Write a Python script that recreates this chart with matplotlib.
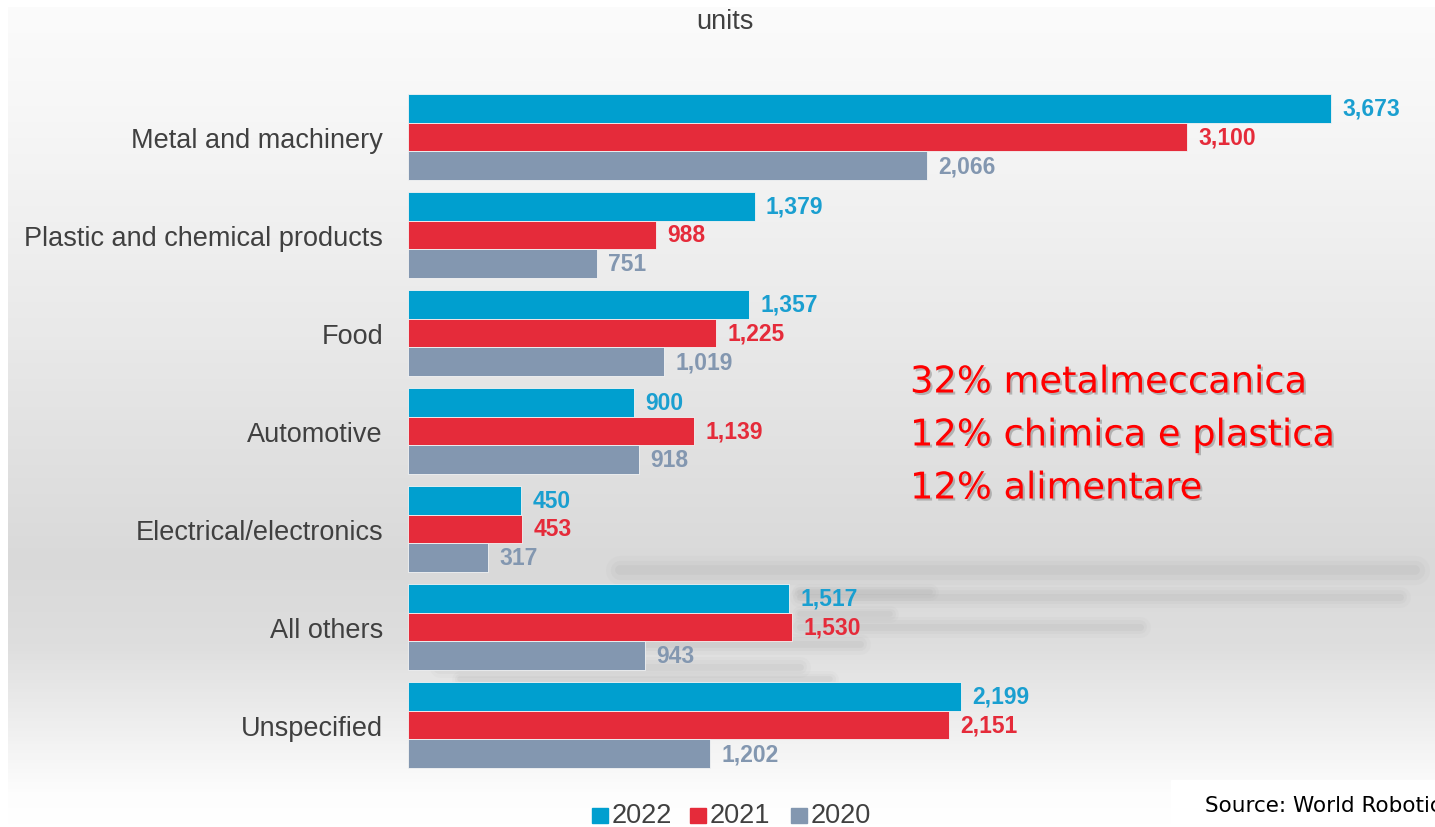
import numpy as np
import matplotlib.pyplot as plt
from matplotlib import patheffects as pe
from matplotlib.colors import LinearSegmentedColormap

# data
categories = ['Metal and machinery', 'Plastic and chemical products', 'Food',
              'Automotive', 'Electrical/electronics', 'All others', 'Unspecified']
years = ['2022', '2021', '2020']
v2022 = [3673, 1379, 1357, 900, 450, 1517, 2199]
v2021 = [3100, 988, 1225, 1139, 453, 1530, 2151]
v2020 = [2066, 751, 1019, 918, 317, 943, 1202]

bar_colors = ['#009fcf', '#e52b3a', '#8397b0']
label_colors = ['#1a9fd0', '#e52b3a', '#8397b0']
note_lines = ['32% metalmeccanica', '12% chimica e plastica', '12% alimentare']

W, H = 1435, 828
fig = plt.figure(figsize=(W / 100, H / 100), dpi=100)
fig.patch.set_facecolor('white')

# slide background gradient
bg = fig.add_axes([8 / W, 0, 1 - 8 / W, 1 - 8 / H], zorder=0)
grad = LinearSegmentedColormap.from_list('bg', [
    (0.0, '#fbfbfb'), (0.12, '#f7f7f7'), (0.40, '#e9e9e9'), (0.68, '#d9d9d9'),
    (0.78, '#dedede'), (0.96, '#fdfdfd'), (1.0, '#ffffff')])
bg.imshow(np.linspace(0, 1, 256).reshape(-1, 1), aspect='auto', cmap=grad,
          extent=[0, 1, 1, 0])
bg.set_xlim(0, 1)
bg.set_ylim(1, 0)
bg.axis('off')

# faint blurred streaks from the slide
streaks = [(620, 1415, 571, 7), (800, 1400, 598, 5), (800, 930, 593, 4),
           (800, 1140, 628, 5), (800, 890, 615, 4), (600, 860, 645, 5),
           (440, 800, 668, 5), (460, 830, 680, 4)]
for x0, x1, yy, lw in streaks:
    for k, a in [(3.0, 0.05), (2.0, 0.07), (1.0, 0.10)]:
        bg.plot([(x0 - 8) / (W - 8), (x1 - 8) / (W - 8)], [(yy - 8) / (H - 8)] * 2,
                color='#9a9a9a', lw=lw * k, alpha=a, solid_capstyle='round')

ax = fig.add_axes([408 / W, 1 - 775 / H, 1 - 408 / W, 686 / H], zorder=2)
ax.patch.set_alpha(0)
y = np.arange(len(categories))
h = 0.293
series = [v2022, v2021, v2020]
for i, vals in enumerate(series):
    pos = y + (i - 1) * h
    ax.barh(pos, vals, height=h, color=bar_colors[i], edgecolor='#f4f4f4',
            linewidth=0.6)
    for p, v in zip(pos, vals):
        ax.text(v + 45, p, f'{v:,}', va='center', ha='left', fontsize=16.5,
                fontweight='bold', color=label_colors[i],
                family='Liberation Sans')

ax.set_xlim(0, (W - 408) / 0.2513)
ax.set_ylim(len(categories) - 0.5, -0.5)
ax.set_yticks(y)
ax.set_yticklabels(categories, fontsize=19.5, color='#404040',
                   family='Liberation Sans')
ax.tick_params(axis='y', length=0, pad=18)
ax.set_xticks([])
for s in ax.spines.values():
    s.set_visible(False)

fig.text(725 / W, 1 - 22 / H, 'units', ha='center', va='center', fontsize=19.5,
         color='#404040', family='Liberation Sans')

shadow = [pe.withSimplePatchShadow(offset=(1.5, -1.5), shadow_rgbFace='#777777',
                                   alpha=0.45)]
for k, line in enumerate(note_lines):
    fig.text(910 / W, 1 - (383 + 53 * k) / H, line, ha='left', va='center',
             fontsize=26.5, color='#ff0000', family='DejaVu Sans',
             path_effects=shadow)

# legend
ly = 1 - 816 / H
for i, (yr, x) in enumerate(zip(years, [592, 690, 791])):
    fig.patches.append(plt.Rectangle((x / W, ly - 7.5 / H), 16 / W, 15 / H,
                                     transform=fig.transFigure, color=bar_colors[i]))
    fig.text((x + 20) / W, ly, yr, ha='left', va='center', fontsize=19.5,
             color='#404040', family='Liberation Sans')

# source box (text runs off the right edge, as on the slide)
fig.patches.append(plt.Rectangle((1171 / W, 0), 1, 47 / H, transform=fig.transFigure,
                                 color='white', zorder=5))
fig.text(1205 / W, 1 - 806 / H, 'Source: World Robotics', ha='left', va='center',
         fontsize=15.5, color='black', family='DejaVu Sans', zorder=6)

fig.savefig('out.png', dpi=100)
